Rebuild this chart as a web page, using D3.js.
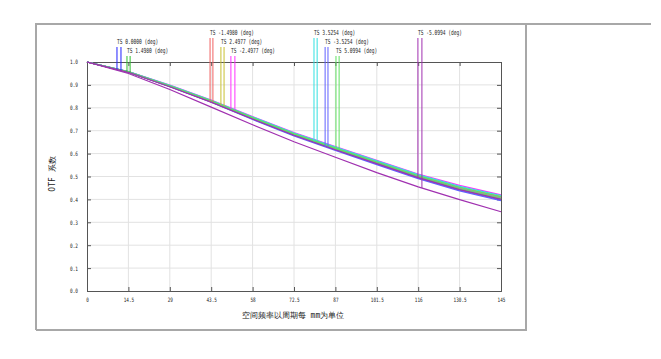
<!DOCTYPE html>
<html>
<head>
<meta charset="utf-8">
<script src="https://cdn.jsdelivr.net/npm/d3@7"></script>
<style>
  body { margin: 0; background: #fff; }
  svg text { font-family: 'DejaVu Sans Mono', monospace; fill: #222; }
</style>
</head>
<body>
<svg id="chart" width="661" height="359"></svg>
<script>
// spatial frequency samples (cycles/mm)
const freqs = [0, 14.5, 29, 43.5, 58, 72.5, 87, 101.5, 116, 130.5, 145];
const yTicks = [0, 0.1, 0.2, 0.3, 0.4, 0.5, 0.6, 0.7, 0.8, 0.9, 1.0];

const fieldNames = ['0.0000', '1.4980', '-1.4980', '2.4977', '-2.4977', '3.5254', '-3.5254', '5.0994', '-5.0994'];
const fieldColors = ['#2020ff', '#30c030', '#f06060', '#c8c030', '#ff30ff', '#30e0e0', '#6060ff', '#60e060', '#a030b0'];

// tangential / sagittal MTF per field
const tanValues = [
  [1, 0.957, 0.895, 0.828, 0.754, 0.682, 0.619, 0.557, 0.494, 0.441, 0.398],
  [1, 0.956, 0.894, 0.827, 0.753, 0.681, 0.619, 0.558, 0.497, 0.445, 0.403],
  [1, 0.955, 0.893, 0.826, 0.752, 0.680, 0.618, 0.557, 0.496, 0.444, 0.401],
  [1, 0.956, 0.894, 0.828, 0.755, 0.684, 0.622, 0.561, 0.500, 0.448, 0.406],
  [1, 0.957, 0.896, 0.830, 0.757, 0.686, 0.624, 0.563, 0.502, 0.451, 0.410],
  [1, 0.957, 0.895, 0.829, 0.755, 0.684, 0.621, 0.559, 0.497, 0.444, 0.400],
  [1, 0.955, 0.892, 0.824, 0.749, 0.677, 0.614, 0.552, 0.490, 0.437, 0.394],
  [1, 0.956, 0.894, 0.827, 0.754, 0.683, 0.620, 0.559, 0.498, 0.446, 0.404],
  [1, 0.955, 0.892, 0.825, 0.751, 0.680, 0.617, 0.556, 0.495, 0.443, 0.400]
];
const sagValues = [
  [1, 0.957, 0.896, 0.830, 0.757, 0.686, 0.624, 0.563, 0.501, 0.449, 0.407],
  [1, 0.957, 0.896, 0.829, 0.756, 0.685, 0.623, 0.562, 0.502, 0.451, 0.409],
  [1, 0.956, 0.895, 0.829, 0.756, 0.685, 0.623, 0.562, 0.501, 0.449, 0.407],
  [1, 0.957, 0.897, 0.831, 0.758, 0.688, 0.626, 0.566, 0.505, 0.454, 0.413],
  [1, 0.958, 0.899, 0.834, 0.762, 0.692, 0.631, 0.571, 0.511, 0.461, 0.420],
  [1, 0.958, 0.898, 0.833, 0.760, 0.690, 0.628, 0.568, 0.508, 0.457, 0.417],
  [1, 0.956, 0.894, 0.827, 0.753, 0.682, 0.619, 0.558, 0.497, 0.445, 0.402],
  [1, 0.957, 0.896, 0.830, 0.757, 0.686, 0.624, 0.563, 0.503, 0.452, 0.411],
  [1, 0.950, 0.880, 0.803, 0.726, 0.652, 0.584, 0.517, 0.455, 0.399, 0.346]
];

// frequency where each field's legend marker drops onto its curves
const markerTan = [10.5, 14.0, 43.1, 46.9, 50.4, 79.5, 83.4, 87.2, 115.9];
const markerSag = [11.9, 15.1, 44.1, 48.0, 51.8, 80.6, 84.4, 88.3, 117.3];

const margin = { left: 87, top: 62, right: 160, bottom: 68 };
const svg = d3.select('#chart');
const width = 661 - margin.left - margin.right;
const height = 359 - margin.top - margin.bottom;

const x = d3.scaleLinear().domain([0, 145]).range([0, width]);
const y = d3.scaleLinear().domain([0, 1]).range([height, 0]);

// outer frame
const frame = svg.append('g').attr('stroke', '#a8a8a8').attr('stroke-width', 2).attr('fill', 'none');
frame.append('path').attr('d', 'M36,330 L36,24 L651,24');
frame.append('path').attr('d', 'M36,330 L526,330 L526,24');

const g = svg.append('g').attr('transform', `translate(${margin.left},${margin.top})`);

// grid
g.append('g')
  .selectAll('line')
  .data(freqs.slice(1, -1))
  .join('line')
  .attr('x1', d => x(d)).attr('x2', d => x(d))
  .attr('y1', 0).attr('y2', height)
  .attr('stroke', '#e2e2e2');
g.append('g')
  .selectAll('line')
  .data(yTicks.slice(1, -1))
  .join('line')
  .attr('y1', d => y(d)).attr('y2', d => y(d))
  .attr('x1', 0).attr('x2', width)
  .attr('stroke', '#e2e2e2');

// axes
const fmtX = d => d3.format('')(d);
const xAxis = g.append('g')
  .attr('transform', `translate(0,${height})`)
  .call(d3.axisBottom(x).tickValues(freqs).tickFormat(fmtX).tickSize(-4).tickPadding(7));
const xTop = g.append('g')
  .call(d3.axisTop(x).tickValues(freqs).tickFormat('').tickSize(-4));
const yAxis = g.append('g')
  .call(d3.axisLeft(y).tickValues(yTicks).tickFormat(d3.format('.1f')).tickSize(-4).tickPadding(9));
const yRight = g.append('g')
  .attr('transform', `translate(${width},0)`)
  .call(d3.axisRight(y).tickValues(yTicks).tickFormat('').tickSize(-4));

[xAxis, xTop, yAxis, yRight].forEach(a => {
  a.select('.domain').attr('stroke', '#555');
  a.selectAll('.tick line').attr('stroke', '#555');
  a.selectAll('text').attr('font-family', "'DejaVu Sans Mono', monospace").attr('font-size', 6).attr('fill', '#333');
});
xAxis.selectAll('text').attr('textLength', d => fmtX(d).length * 2.6).attr('lengthAdjust', 'spacingAndGlyphs');
yAxis.selectAll('text').attr('textLength', 8).attr('lengthAdjust', 'spacingAndGlyphs');

// curves
const line = d3.line().x((d, i) => x(freqs[i])).y(d => y(d));
const curves = g.append('g').attr('fill', 'none').attr('stroke-width', 1.2);
fieldNames.forEach((name, i) => {
  curves.append('path').attr('d', line(tanValues[i])).attr('stroke', fieldColors[i]);
  curves.append('path').attr('d', line(sagValues[i])).attr('stroke', fieldColors[i]);
});

// legend labels with drop lines
const rowBase = [35, 44, 53];
const legend = svg.append('g');
fieldNames.forEach((name, i) => {
  const row = (i + 1) % 3;
  const label = 'TS ' + name + ' (deg)';
  const interpT = d3.scaleLinear().domain(freqs).range(tanValues[i]);
  const interpS = d3.scaleLinear().domain(freqs).range(sagValues[i]);
  const xt = margin.left + x(markerTan[i]);
  const xs = margin.left + x(markerSag[i]);
  legend.append('text')
    .attr('x', xt)
    .attr('y', rowBase[row])
    .attr('font-size', 7)
    .attr('textLength', label.length * 2.75)
    .attr('lengthAdjust', 'spacingAndGlyphs')
    .text(label);
  legend.append('line')
    .attr('x1', xt).attr('x2', xt)
    .attr('y1', rowBase[row] + 3).attr('y2', margin.top + y(interpT(markerTan[i])))
    .attr('stroke', fieldColors[i]);
  legend.append('line')
    .attr('x1', xs).attr('x2', xs)
    .attr('y1', rowBase[row] + 3).attr('y2', margin.top + y(interpS(markerSag[i])))
    .attr('stroke', fieldColors[i]);
});

// axis titles
svg.append('text')
  .attr('x', margin.left + width / 2 - 1)
  .attr('y', 318)
  .attr('text-anchor', 'middle')
  .attr('font-family', "'Noto Sans CJK SC', sans-serif")
  .attr('font-size', 8)
  .text('空间频率以周期每 mm为单位');

svg.append('text')
  .attr('transform', 'translate(55,174) rotate(-90)')
  .attr('text-anchor', 'middle')
  .attr('font-family', "'Noto Sans CJK SC', sans-serif")
  .attr('font-size', 8)
  .text('OTF 系数');
</script>
</body>
</html>
